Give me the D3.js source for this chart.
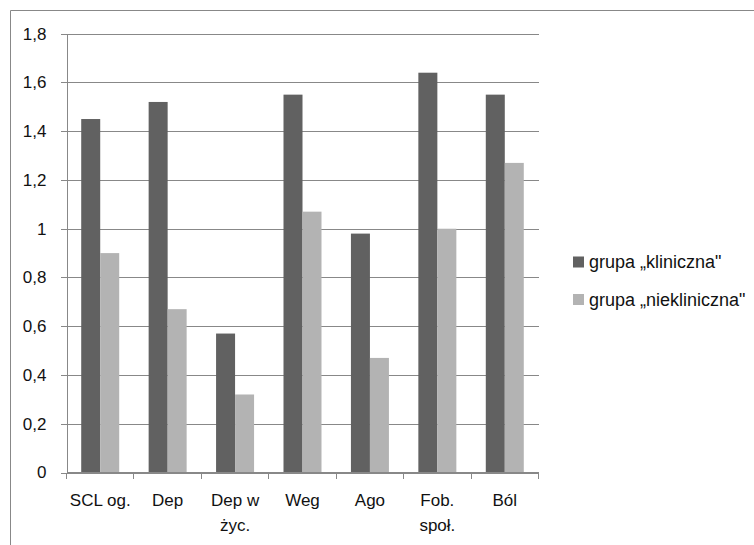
<!DOCTYPE html>
<html>
<head>
<meta charset="utf-8">
<script src="https://cdn.jsdelivr.net/npm/d3@7"></script>
<style>
  body { margin: 0; background: #fff; }
  svg text { font-family: "Liberation Sans", Arial, sans-serif; fill: #111; }
</style>
</head>
<body>
<svg id="chart" width="754" height="545"></svg>
<script>
const categories = ["SCL og.", "Dep", "Dep w\nżyc.", "Weg", "Ago", "Fob.\nspoł.", "Ból"];
const clinical = [1.45, 1.52, 0.57, 1.55, 0.98, 1.64, 1.55];
const nonClinical = [0.90, 0.67, 0.32, 1.07, 0.47, 1.00, 1.27];
const seriesNames = ["grupa „kliniczna\"", "grupa „niekliniczna\""];
const yTicks = [0, 0.2, 0.4, 0.6, 0.8, 1, 1.2, 1.4, 1.6, 1.8];

const colors = ["#616161", "#b3b3b3"];

const svg = d3.select("#chart");

// outer frame (only left and top edges visible)
svg.append("path")
    .attr("d", "M10.5,545 V10.5 H754")
    .attr("fill", "none")
    .attr("stroke", "#888")
    .attr("stroke-width", 1);

const pLeft = 66.5, pRight = 538.5, pTop = 33.7, pBottom = 472.5;

const x = d3.scaleBand().domain(d3.range(categories.length)).range([pLeft, pRight]);
const y = d3.scaleLinear().domain([0, 1.8]).range([pBottom, pTop]);

const fmt = d => d3.format(".1f")(d).replace(".", ",").replace(",0", "");

// gridlines
svg.append("g")
    .attr("class", "ygrid")
    .attr("transform", `translate(${pLeft},0)`)
    .call(d3.axisLeft(y).tickValues(yTicks).tickSize(-(pRight - pLeft)).tickFormat(""))
    .call(g => g.select(".domain").remove())
    .call(g => g.selectAll("line").attr("stroke", "#888").attr("x1", -6).attr("shape-rendering", "crispEdges"));

// y axis labels
svg.append("g")
    .attr("transform", `translate(${pLeft},0)`)
    .call(d3.axisLeft(y).tickValues(yTicks).tickSize(0).tickPadding(20).tickFormat(fmt))
    .call(g => g.select(".domain").attr("stroke", "#888").attr("shape-rendering", "crispEdges"))
    .call(g => g.selectAll("text").attr("font-size", "17px").attr("fill", "#111"));

// bars
const barW = 19;
const series = [clinical, nonClinical];
series.forEach((vals, si) => {
    svg.append("g").selectAll("rect")
        .data(vals)
        .enter()
        .append("rect")
        .attr("x", (d, i) => x(i) + x.bandwidth() / 2 - barW + si * barW)
        .attr("y", d => y(d))
        .attr("width", barW)
        .attr("height", d => y(0) - y(d))
        .attr("fill", colors[si]);
});

// x axis
const xAxis = svg.append("g")
    .attr("transform", `translate(0,${pBottom})`);

xAxis.append("line")
    .attr("x1", pLeft).attr("x2", pRight)
    .attr("stroke", "#888").attr("shape-rendering", "crispEdges");

const boundaries = d3.range(categories.length + 1).map(i => pLeft + i * x.step());
xAxis.selectAll(".bt")
    .data(boundaries)
    .enter()
    .append("line")
    .attr("x1", d => d).attr("x2", d => d)
    .attr("y1", 0).attr("y2", 6)
    .attr("stroke", "#888").attr("shape-rendering", "crispEdges");

const lbl = svg.append("g").selectAll("text")
    .data(categories)
    .enter()
    .append("text")
    .attr("x", (d, i) => x(i) + x.bandwidth() / 2)
    .attr("y", pBottom + 33)
    .attr("text-anchor", "middle")
    .attr("font-size", "17px");

lbl.each(function(d) {
    const t = d3.select(this);
    d.split("\n").forEach((line, k) => {
        t.append("tspan")
            .attr("x", t.attr("x"))
            .attr("dy", k === 0 ? 0 : 25)
            .text(line);
    });
});

// legend
const legend = svg.append("g").attr("transform", "translate(573,256.5)");
seriesNames.forEach((name, i) => {
    const row = legend.append("g").attr("transform", `translate(0,${i * 37.5})`);
    row.append("rect")
        .attr("width", 11).attr("height", 11)
        .attr("fill", colors[i]);
    row.append("text")
        .attr("x", 16).attr("y", 5.5)
        .attr("dy", "0.36em")
        .attr("font-size", "18px")
        .text(name);
});
</script>
</body>
</html>
